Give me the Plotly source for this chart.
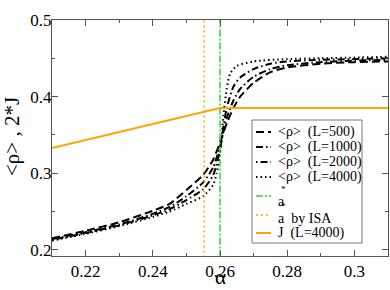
import plotly.graph_objects as go

alpha_500 = [0.21, 0.22, 0.23, 0.24, 0.245, 0.25, 0.255, 0.258, 0.26, 0.262, 0.264, 0.266, 0.27, 0.275, 0.28, 0.29, 0.30, 0.31]
rho_500 = [0.215, 0.225, 0.236, 0.251, 0.260, 0.278, 0.298, 0.318, 0.340, 0.365, 0.385, 0.400, 0.418, 0.432, 0.438, 0.443, 0.445, 0.446]

alpha_1000 = [0.21, 0.22, 0.23, 0.24, 0.245, 0.25, 0.255, 0.258, 0.26, 0.262, 0.264, 0.266, 0.27, 0.275, 0.28, 0.29, 0.30, 0.31]
rho_1000 = [0.214, 0.223, 0.233, 0.247, 0.256, 0.270, 0.288, 0.308, 0.335, 0.372, 0.395, 0.410, 0.426, 0.436, 0.441, 0.445, 0.447, 0.448]

alpha_2000 = [0.21, 0.22, 0.23, 0.24, 0.245, 0.25, 0.255, 0.258, 0.26, 0.261, 0.262, 0.264, 0.266, 0.27, 0.275, 0.28, 0.29, 0.30, 0.31]
rho_2000 = [0.213, 0.222, 0.232, 0.245, 0.253, 0.265, 0.279, 0.298, 0.330, 0.360, 0.385, 0.413, 0.425, 0.436, 0.443, 0.446, 0.448, 0.449, 0.450]

alpha_4000 = [0.21, 0.22, 0.23, 0.24, 0.245, 0.25, 0.255, 0.258, 0.259, 0.26, 0.261, 0.262, 0.263, 0.265, 0.27, 0.28, 0.29, 0.30, 0.31]
rho_4000 = [0.212, 0.221, 0.231, 0.243, 0.250, 0.260, 0.270, 0.285, 0.300, 0.325, 0.375, 0.410, 0.430, 0.440, 0.446, 0.449, 0.450, 0.451, 0.452]

a_star = 0.26
a_star_isa = 0.2553
y_span = [0.19, 0.5]

alpha_J = [0.21, 0.26, 0.31]
J_2x = [0.333, 0.385, 0.385]

legend_names = ["<ρ>  (L=500)", "<ρ>  (L=1000)", "<ρ>  (L=2000)", "<ρ>  (L=4000)",
                "a", "a  by ISA", "J  (L=4000)"]

font = "'Liberation Serif', 'Times New Roman', Times, serif"
W, H = 390, 290
ML, MR, MT, MB = 52, 2, 20, 34
PW, PH = W - ML - MR, H - MT - MB


def px2paper(x, y):
    return (x - ML) / PW, (H - MB - y) / PH


fig = go.Figure()

styles = [
    dict(color="black", width=2, dash="8px,4px"),
    dict(color="black", width=2, dash="7px,3px,1.5px,3px"),
    dict(color="black", width=2, dash="1.5px,3px,7px,3px"),
    dict(color="black", width=2, dash="1.5px,3px"),
    dict(color="#22dd22", width=1.5, dash="7px,2px,2px,2px"),
    dict(color="#ffa500", width=1.5, dash="2px,3px"),
    dict(color="#ffa500", width=2),
]

curves = [(alpha_500, rho_500), (alpha_1000, rho_1000), (alpha_2000, rho_2000), (alpha_4000, rho_4000)]
for i, (x, y) in enumerate(curves):
    fig.add_trace(go.Scatter(x=x, y=y, mode="lines", name=legend_names[i], showlegend=False,
                             line=dict(**styles[i], shape="spline", smoothing=0.6)))

fig.add_trace(go.Scatter(x=[a_star, a_star], y=y_span, mode="lines", name="a*", showlegend=False,
                         line=styles[4]))
fig.add_trace(go.Scatter(x=[a_star_isa, a_star_isa], y=y_span, mode="lines", name="a* by ISA",
                         showlegend=False, line=styles[5]))
fig.add_trace(go.Scatter(x=alpha_J, y=J_2x, mode="lines", name="J  (L=4000)", showlegend=False,
                         line=styles[6]))

axis_common = dict(showline=True, linecolor="#555555", linewidth=1, mirror="ticks",
                   ticks="inside", ticklen=6, tickcolor="#555555", showgrid=False, zeroline=False,
                   automargin=False,
                   tickfont=dict(family=font, size=17, color="black"))

fig.update_xaxes(range=[0.21, 0.31], tickvals=[0.22, 0.24, 0.26, 0.28, 0.3],
                 ticktext=["0.22", "0.24", "0.26", "0.28", "0.3"],
                 minor=dict(dtick=0.01, ticks="inside", ticklen=3, tickcolor="#555555"),
                 **axis_common)
fig.update_yaxes(range=[0.192, 0.5], tickvals=[0.2, 0.3, 0.4, 0.5],
                 ticktext=["0.2", "0.3", "0.4", "0.5"],
                 minor=dict(dtick=0.05, ticks="inside", ticklen=3, tickcolor="#555555"),
                 ticklabelstandoff=-4,
                 **axis_common)

# axis titles
ax, ay = px2paper(220, 277)
fig.add_annotation(text="α", xref="paper", yref="paper", x=ax, y=ay,
                   xanchor="center", yanchor="middle",
                   showarrow=False, font=dict(family=font, size=21, color="black"))
tx, ty = px2paper(12, 137)
fig.add_annotation(text="<ρ> , 2*J", xref="paper", yref="paper", x=tx, y=ty,
                   xanchor="center", yanchor="middle", textangle=-90,
                   showarrow=False, font=dict(family=font, size=21, color="black"))

# manual legend box
x0, y0 = px2paper(252, 243)
x1, y1 = px2paper(362, 120)
fig.add_shape(type="rect", xref="paper", yref="paper", x0=x0, y0=y0, x1=x1, y1=y1,
              line=dict(color="#777777", width=1), fillcolor="white", layer="above")

row_text_y = [132, 147, 162, 177, 201, 218, 233]
row_sym_y = [132, 147, 162, 177, 196, 215, 233]
for i, name in enumerate(legend_names):
    sx0, sy = px2paper(256, row_sym_y[i])
    sx1, _ = px2paper(271, row_sym_y[i])
    fig.add_shape(type="line", xref="paper", yref="paper", x0=sx0, x1=sx1, y0=sy, y1=sy,
                  line=styles[i], layer="above")
    lx, ly = px2paper(276, row_text_y[i])
    fig.add_annotation(text=name, xref="paper", yref="paper", x=lx, y=ly,
                       xanchor="left", yanchor="middle", showarrow=False,
                       font=dict(family=font, size=14, color="black"))
# superscript asterisks above "a"
for ry in (189, 206):
    sx, sy = px2paper(283, ry)
    fig.add_annotation(text="*", xref="paper", yref="paper", x=sx, y=sy,
                       xanchor="center", yanchor="middle", showarrow=False,
                       font=dict(family=font, size=9, color="black"))

fig.update_layout(
    width=W, height=H,
    margin=dict(l=ML, r=MR, t=MT, b=MB),
    plot_bgcolor="white", paper_bgcolor="white",
    showlegend=False,
)

fig.write_html("out.html", config={"displayModeBar": False},
               post_script="document.body.style.margin='0px';")
